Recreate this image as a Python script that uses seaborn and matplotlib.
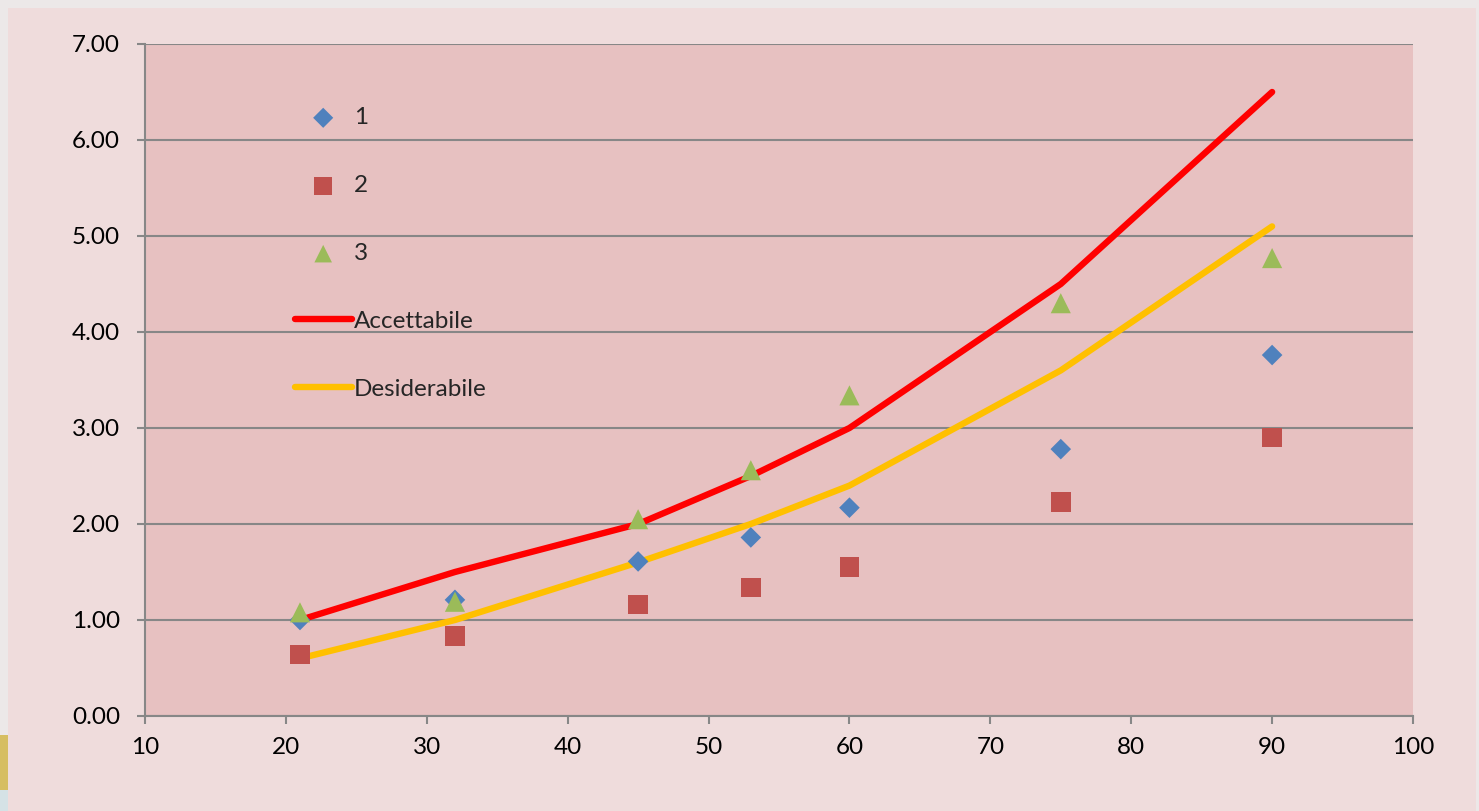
import matplotlib
matplotlib.use("Agg")
import matplotlib.pyplot as plt
import matplotlib.patches as mpatches
import seaborn as sns
import pandas as pd

# Measurement points (x) and observed series
x_vals = [21, 32, 45, 53, 60, 75, 90]
serie_1 = [1.00, 1.21, 1.61, 1.86, 2.17, 2.78, 3.76]
serie_2 = [0.64, 0.83, 1.16, 1.34, 1.55, 2.23, 2.90]
serie_3 = [1.08, 1.19, 2.05, 2.56, 3.34, 4.30, 4.77]

# Reference curves
accettabile = [1.0, 1.5, 2.0, 2.5, 3.0, 4.5, 6.5]
desiderabile = [0.6, 1.0, 1.6, 2.0, 2.4, 3.6, 5.1]

x_ticks = [10, 20, 30, 40, 50, 60, 70, 80, 90, 100]
y_ticks = [0, 1, 2, 3, 4, 5, 6, 7]

sns.set_theme(style="white")
plt.rcParams["font.family"] = ["Lato", "DejaVu Sans"]

W, H = 1479, 811
fig = plt.figure(figsize=(W / 100, H / 100), dpi=100)
fig.patch.set_facecolor("#EFDCDC")

# slide edges around the chart panel
fig.add_artist(mpatches.Rectangle((0, 1 - 8 / H), 1, 8 / H, transform=fig.transFigure,
                                  facecolor="#ECE8E8", edgecolor="none", zorder=0))
fig.add_artist(mpatches.Rectangle((0, 0), 8 / W, 1, transform=fig.transFigure,
                                  facecolor="#ECE8E8", edgecolor="none", zorder=0))
fig.add_artist(mpatches.Rectangle((1 - 3 / W, 0), 3 / W, 1, transform=fig.transFigure,
                                  facecolor="#ECE8E8", edgecolor="none", zorder=0))
fig.add_artist(mpatches.Rectangle((0, (H - 790) / H), 8 / W, 55 / H, transform=fig.transFigure,
                                  facecolor="#D6BE62", edgecolor="none", zorder=1))
fig.add_artist(mpatches.Rectangle((0, 0), 8 / W, (H - 790) / H, transform=fig.transFigure,
                                  facecolor="#D5E2E6", edgecolor="none", zorder=1))

ax = fig.add_axes([145 / W, 1 - 716 / H, (1413 - 145) / W, (716 - 44) / H])
ax.set_facecolor("#E7C1C1")

df_pts = pd.DataFrame({"x": x_vals, "s1": serie_1, "s2": serie_2, "s3": serie_3})
df_lines = pd.DataFrame({"x": x_vals, "acc": accettabile, "des": desiderabile})

sns.scatterplot(data=df_pts, x="x", y="s1", ax=ax, marker="D", s=110, color="#4F81BD",
                edgecolor="none", label="1", zorder=5)
sns.scatterplot(data=df_pts, x="x", y="s2", ax=ax, marker="s", s=200, color="#C0504D",
                edgecolor="none", label="2", zorder=5)
sns.scatterplot(data=df_pts, x="x", y="s3", ax=ax, marker="^", s=210, color="#9BBB59",
                edgecolor="none", label="3", zorder=5)
sns.lineplot(data=df_lines, x="x", y="acc", ax=ax, color="#FF0000", linewidth=4.6,
             label="Accettabile", zorder=4, solid_capstyle="round")
sns.lineplot(data=df_lines, x="x", y="des", ax=ax, color="#FFC000", linewidth=4.6,
             label="Desiderabile", zorder=4, solid_capstyle="round")

ax.set_xlim(10, 100)
ax.set_ylim(0, 7)
ax.set_xticks(x_ticks)
ax.set_yticks(y_ticks)
ax.set_xticklabels([str(v) for v in x_ticks])
ax.set_yticklabels([f"{v:.2f}" for v in y_ticks])
ax.set_xlabel("")
ax.set_ylabel("")

ax.yaxis.grid(True, color="#878787", linewidth=1.5)
ax.xaxis.grid(False)
ax.set_axisbelow(True)
for side in ["top", "right"]:
    ax.spines[side].set_visible(False)
for side in ["left", "bottom"]:
    ax.spines[side].set_color("#878787")
    ax.spines[side].set_linewidth(1.5)

ax.tick_params(axis="both", which="major", direction="out", length=6, width=1.5,
               color="#878787", labelsize=17.5, labelcolor="black")
ax.tick_params(axis="y", pad=12, left=True)
ax.tick_params(axis="x", pad=9, bottom=True)

leg = ax.legend(loc="upper left", bbox_to_anchor=(0.118, 0.906), frameon=False,
                fontsize=17.5, labelspacing=1.93, handlelength=2.35, handletextpad=0.08,
                borderaxespad=0, borderpad=0)
legend_marker_sizes = [105, 160, 160]
for h, sz in zip(leg.legend_handles[:3], legend_marker_sizes):
    h.set_sizes([sz])

fig.savefig("out.png", dpi=100, facecolor=fig.get_facecolor())
